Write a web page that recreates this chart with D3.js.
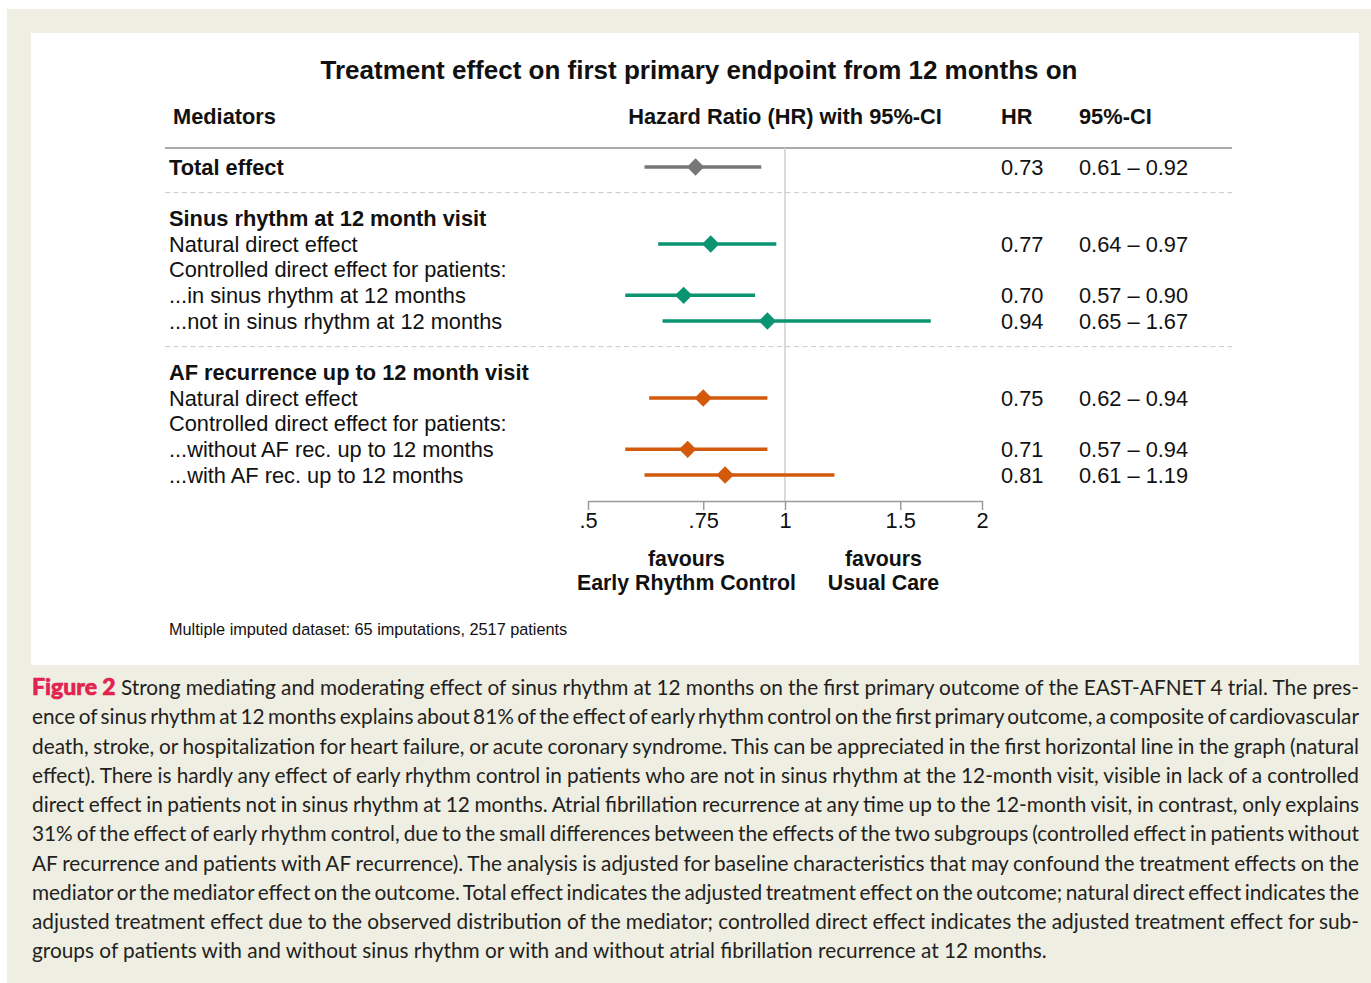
<!DOCTYPE html>
<html>
<head>
<meta charset="utf-8">
<script src="https://cdn.jsdelivr.net/npm/d3@7"></script>
<style>
  html, body { margin: 0; padding: 0; background: #fff; }
  svg { display: block; }
  .chart text { font-family: "Liberation Sans", Arial, sans-serif; fill: #111; }
  .caption text { font-family: Lato, "Open Sans", sans-serif; fill: #231f20; }
</style>
</head>
<body>
<svg id="fig" width="1371" height="983"></svg>
<script>
// ---- data ----
const rowLabels = [
  "Total effect",
  "Sinus rhythm at 12 month visit",
  "Natural direct effect",
  "Controlled direct effect for patients:",
  "...in sinus rhythm at 12 months",
  "...not in sinus rhythm at 12 months",
  "AF recurrence up to 12 month visit",
  "Natural direct effect",
  "Controlled direct effect for patients:",
  "...without AF rec. up to 12 months",
  "...with AF rec. up to 12 months"
];
const labelRows = [0, 2, 3, 4, 5, 6, 8, 9, 10, 11, 12];
const labelBold = [true, true, false, false, false, false, true, false, false, false, false];

const estimateRows = [0, 3, 5, 6, 9, 11, 12];
const hr     = [0.73, 0.77, 0.70, 0.94, 0.75, 0.71, 0.81];
const ciLow  = [0.61, 0.64, 0.57, 0.65, 0.62, 0.57, 0.61];
const ciHigh = [0.92, 0.97, 0.90, 1.67, 0.94, 0.94, 1.19];
const hrText = ["0.73", "0.77", "0.70", "0.94", "0.75", "0.71", "0.81"];
const ciText = ["0.61 \u2013 0.92", "0.64 \u2013 0.97", "0.57 \u2013 0.90", "0.65 \u2013 1.67",
                "0.62 \u2013 0.94", "0.57 \u2013 0.94", "0.61 \u2013 1.19"];
const group  = ["total", "sinus", "sinus", "sinus", "af", "af", "af"];

const separatorRows = [1, 7];
const tickValues = [0.5, 0.75, 1, 1.5, 2];
const tickLabels = [".5", ".75", "1", "1.5", "2"];

const colors = { total: "#777777", sinus: "#0a9472", af: "#d35a0a" };

const captionLines = [
  "Strong mediating and moderating effect of sinus rhythm at 12 months on the first primary outcome of the EAST-AFNET 4 trial. The pres-",
  "ence of sinus rhythm at 12 months explains about 81% of the effect of early rhythm control on the first primary outcome, a composite of cardiovascular",
  "death, stroke, or hospitalization for heart failure, or acute coronary syndrome. This can be appreciated in the first horizontal line in the graph (natural",
  "effect). There is hardly any effect of early rhythm control in patients who are not in sinus rhythm at the 12-month visit, visible in lack of a controlled",
  "direct effect in patients not in sinus rhythm at 12 months. Atrial fibrillation recurrence at any time up to the 12-month visit, in contrast, only explains",
  "31% of the effect of early rhythm control, due to the small differences between the effects of the two subgroups (controlled effect in patients without",
  "AF recurrence and patients with AF recurrence). The analysis is adjusted for baseline characteristics that may confound the treatment effects on the",
  "mediator or the mediator effect on the outcome. Total effect indicates the adjusted treatment effect on the outcome; natural direct effect indicates the",
  "adjusted treatment effect due to the observed distribution of the mediator; controlled direct effect indicates the adjusted treatment effect for sub-",
  "groups of patients with and without sinus rhythm or with and without atrial fibrillation recurrence at 12 months."
];

// ---- layout ----
const svg = d3.select("#fig");
svg.append("rect").attr("x", 7).attr("y", 9).attr("width", 1364).attr("height", 974).attr("fill", "#efeee3");
svg.append("rect").attr("x", 31).attr("y", 33).attr("width", 1328).attr("height", 632).attr("fill", "#ffffff");

const chart = svg.append("g").attr("class", "chart");

const x = d3.scaleLog().domain([0.5, 2]).range([588, 982]);
const y = d3.scaleLinear().domain([0, 12]).range([167, 475]);
const tableLeft = 165, tableRight = 1232;
const colHR = 1001, colCI = 1079, colLabel = 169;
const fs = 21.8;

// title
chart.append("text").attr("x", 699).attr("y", 79).attr("text-anchor", "middle")
  .style("font-size", "26px").style("font-weight", "bold")
  .text("Treatment effect on first primary endpoint from 12 months on");

// column headers
const headY = 116;
const head = chart.append("g").style("font-size", fs + "px").style("font-weight", "bold");
head.append("text").attr("x", 173).attr("y", headY).attr("dy", "0.35em").text("Mediators");
head.append("text").attr("x", x(1)).attr("y", headY).attr("dy", "0.35em").attr("text-anchor", "middle")
  .text("Hazard Ratio (HR) with 95%-CI");
head.append("text").attr("x", colHR).attr("y", headY).attr("dy", "0.35em").text("HR");
head.append("text").attr("x", colCI).attr("y", headY).attr("dy", "0.35em").text("95%-CI");

// header rule and group separators
chart.append("line").attr("x1", tableLeft).attr("x2", tableRight).attr("y1", 148).attr("y2", 148)
  .attr("stroke", "#a9a9a9").attr("stroke-width", 2);
chart.selectAll("line.sep").data(separatorRows).join("line").attr("class", "sep")
  .attr("x1", tableLeft).attr("x2", tableRight)
  .attr("y1", d => y(d)).attr("y2", d => y(d))
  .attr("stroke", "#c8c8c8").attr("stroke-width", 1).attr("stroke-dasharray", "5,3.5");

// null line at HR = 1
const axisY = 501;
chart.append("line").attr("x1", x(1)).attr("x2", x(1)).attr("y1", 148).attr("y2", axisY)
  .attr("stroke", "#cfcfcf").attr("stroke-width", 1.5);

// row labels
chart.append("g").selectAll("text").data(rowLabels).join("text")
  .attr("x", colLabel).attr("y", (d, i) => y(labelRows[i])).attr("dy", "0.35em")
  .style("font-size", fs + "px")
  .style("font-weight", (d, i) => labelBold[i] ? "bold" : "normal")
  .text(d => d);

// confidence intervals and point estimates
const est = chart.append("g");
est.selectAll("line").data(hr).join("line")
  .attr("x1", (d, i) => x(ciLow[i])).attr("x2", (d, i) => x(ciHigh[i]))
  .attr("y1", (d, i) => y(estimateRows[i])).attr("y2", (d, i) => y(estimateRows[i]))
  .attr("stroke", (d, i) => colors[group[i]]).attr("stroke-width", 3.5);
const diamond = d3.symbol().type(d3.symbolSquare).size(150);
est.selectAll("path").data(hr).join("path")
  .attr("d", diamond)
  .attr("transform", (d, i) => `translate(${x(d)},${y(estimateRows[i])}) rotate(45)`)
  .attr("fill", (d, i) => colors[group[i]]);

// numeric columns
const nums = chart.append("g").style("font-size", fs + "px");
nums.selectAll("text.hr").data(hrText).join("text").attr("class", "hr")
  .attr("x", colHR).attr("y", (d, i) => y(estimateRows[i])).attr("dy", "0.35em").text(d => d);
nums.selectAll("text.ci").data(ciText).join("text").attr("class", "ci")
  .attr("x", colCI).attr("y", (d, i) => y(estimateRows[i])).attr("dy", "0.35em").text(d => d);

// x axis
const axis = d3.axisBottom(x).tickValues(tickValues)
  .tickFormat((d, i) => tickLabels[i]).tickSize(9).tickSizeOuter(0).tickPadding(3);
const ax = chart.append("g").attr("transform", `translate(0,${axisY})`).call(axis);
ax.select(".domain").attr("stroke", "#9a9a9a").attr("stroke-width", 1.5);
ax.selectAll(".tick line").attr("stroke", "#9a9a9a").attr("stroke-width", 1.5);
ax.selectAll(".tick text").attr("fill", "#111").style("font-size", fs + "px")
  .style("font-family", '"Liberation Sans", Arial, sans-serif');

// direction labels
const fav = chart.append("g").style("font-size", "21.3px").style("font-weight", "bold")
  .attr("text-anchor", "middle");
[[Math.SQRT1_2, "Early Rhythm Control"], [Math.SQRT2, "Usual Care"]].forEach(([v, t]) => {
  fav.append("text").attr("x", x(v)).attr("y", 558.5).attr("dy", "0.35em").text("favours");
  fav.append("text").attr("x", x(v)).attr("y", 583).attr("dy", "0.35em").text(t);
});

// footnote
chart.append("text").attr("x", 169).attr("y", 629).attr("dy", "0.35em")
  .style("font-size", "16.3px").text("Multiple imputed dataset: 65 imputations, 2517 patients");

// ---- caption, justified ----
const cap = svg.append("g").attr("class", "caption");
const capLeft = 32, capRight = 1359, capTop = 695, capStep = 29.25;
const capFs = 20.8;
captionLines.forEach((line, i) => {
  const t = cap.append("text").attr("x", capLeft).attr("y", capTop + i * capStep)
    .style("font-size", capFs + "px");
  if (i === 0) {
    t.append("tspan").style("font-weight", "900").style("font-size", "23px")
      .style("fill", "#e2234f").style("stroke", "#e2234f").style("stroke-width", "0.6px")
      .text("Figure 2");
    t.append("tspan").text(" " + line);
  } else {
    t.append("tspan").text(line);
  }
  if (i < captionLines.length - 1) {
    const natural = t.node().getComputedTextLength();
    const spaces = (i === 0 ? 1 : 0) + (line.match(/ /g) || []).length;
    const extra = (capRight - capLeft - natural) / spaces;
    t.style("word-spacing", extra + "px");
  }
});
</script>
</body>
</html>
